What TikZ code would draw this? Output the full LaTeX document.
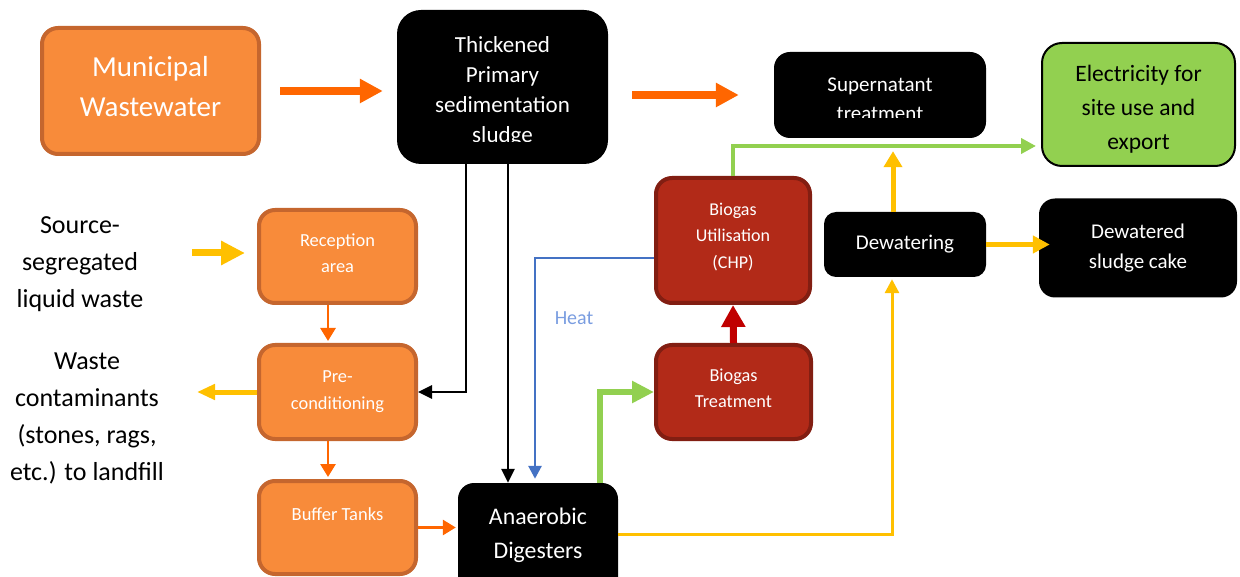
\documentclass[tikz,border=0pt]{standalone}
\usepackage{fontspec}
\setmainfont{Carlito}
\usetikzlibrary{arrows.meta}
\definecolor{orangefill}{RGB}{248,139,58}
\definecolor{orangeedge}{RGB}{197,102,46}
\definecolor{orangeline}{RGB}{255,102,0}
\definecolor{yellowline}{RGB}{255,192,0}
\definecolor{greenfill}{RGB}{146,208,80}
\definecolor{redfill}{RGB}{178,42,24}
\definecolor{rededge}{RGB}{130,30,18}
\definecolor{redline}{RGB}{192,0,0}
\definecolor{blueline}{RGB}{68,114,196}
\definecolor{heattext}{RGB}{122,157,224}
\newcommand{\setfs}[2]{\fontsize{#1}{#2}\selectfont}
\begin{document}
\begin{tikzpicture}[x=1pt,y=-1pt,
  orangebox/.style={draw=orangeedge,fill=orangefill,line width=4pt,rounded corners=16pt,
    text=white,align=center,inner sep=0pt},
  blackbox/.style={fill=black,rounded corners=16pt,text=white,align=center,inner sep=0pt},
  redbox/.style={draw=rededge,fill=redfill,line width=4pt,rounded corners=16pt,
    text=white,align=center,inner sep=0pt},
  greenbox/.style={draw=black,fill=greenfill,line width=2pt,rounded corners=20pt,
    text=black,align=center,inner sep=0pt},
  plain/.style={align=center,inner sep=0pt},
  whitetext/.style={plain,text=white},
  bigorange/.style={draw=orangeline,line width=8pt,-{Triangle[length=23pt,width=23pt]}},
  thinorange/.style={draw=orangeline,line width=2.8pt,-{Triangle[length=13pt,width=15pt]}},
  blackline/.style={draw=black,line width=2.8pt,-{Triangle[length=14pt,width=13pt]}},
  heatline/.style={draw=blueline,line width=2.8pt,-{Triangle[length=13pt,width=13pt]}},
  redarrow/.style={draw=redline,line width=7pt,-{Triangle[length=22pt,width=23pt]}},
]
\useasboundingbox (0,0) rectangle (1240,577);

% boxes
\node[orangebox,minimum width=217pt,minimum height=126pt] (mun) at (150.5,91) {};
\node[blackbox,rounded corners=24pt,minimum width=211pt,minimum height=154pt] (thick) at (502.5,87) {};
\node[blackbox,minimum width=212pt,minimum height=86pt] (super) at (880,95) {};
\node[greenbox,minimum width=193pt,minimum height=123pt] (elec) at (1138.5,104.5) {};
\node[orangebox,minimum width=157pt,minimum height=93pt] (rec) at (337.5,256.5) {};
\node[orangebox,minimum width=157pt,minimum height=94pt,font=\setfs{18.4}{27}] (pre) at (337.5,392)
  {Pre-\\conditioning};
\node[orangebox,minimum width=157pt,minimum height=93pt] (buf) at (337.5,527.5) {};
\node[blackbox,minimum width=160pt,minimum height=117pt] (ana) at (538,541.5) {};
\node[redbox,minimum width=154pt,minimum height=125pt] (util) at (733,240.5) {};
\node[redbox,minimum width=155pt,minimum height=94pt] (treat) at (733.5,392) {};
\node[blackbox,rounded corners=12pt,minimum width=162pt,minimum height=65pt,font=\setfs{21}{30}] (dew) at (905,244.5)
  {Dewatering};
\node[blackbox,minimum width=198pt,minimum height=99pt,font=\setfs{21}{30}] (cake) at (1138,248)
  {Dewatered\\sludge cake};

% box texts
\node[whitetext,font=\setfs{29}{40}] (muntxt) at (150.5,87) {Municipal\\Wastewater};
\begin{scope}
  \clip (397,10) rectangle (608,142);
  \node[whitetext,font=\setfs{23}{30}] (thicktxt) at (502.5,91)
    {Thickened\\Primary\\sedimentation\\sludge};
\end{scope}
\begin{scope}
  \clip (774,52) rectangle (986,118);
  \node[whitetext,font=\setfs{21}{29}] (supertxt) at (880,99) {Supernatant\\treatment};
\end{scope}
\node[plain,font=\setfs{23.5}{34}] (electxt) at (1138.5,109) {Electricity for\\site use and\\export};
\node[whitetext,font=\setfs{18.4}{26}] (rectxt) at (337.5,253.5) {Reception\\area};
\node[whitetext,font=\setfs{18.5}{26}] (buftxt) at (337.5,514) {Buffer Tanks};
\node[whitetext,font=\setfs{23.8}{34}] (anatxt) at (538,535) {Anaerobic\\Digesters};
\node[whitetext,font=\setfs{18}{26.5}] (utiltxt) at (733,237) {Biogas\\Utilisation\\(CHP)};
\node[whitetext,font=\setfs{18.3}{26}] (treattxt) at (733.5,388) {Biogas\\Treatment};

% free labels
\node[plain,font=\setfs{26}{37}] (src) at (80,264) {Source-\\segregated\\liquid waste};
\node[plain,font=\setfs{26}{37}] (waste) at (87,418) {Waste\\contaminants\\(stones, rags,\\etc.) to landfill};
\node[plain,text=heattext,font=\setfs{20}{24}] (heat) at (574,318) {Heat};
\coordinate (srcout) at (192,253);
\coordinate (wasteout) at (197,392);

% connectors
\draw[bigorange,shorten <=19pt,shorten >=14pt] (mun.east) -- (mun.east -| thick.west);
\draw[bigorange,shorten <=24pt,shorten >=35pt] (super.west -| thick.east) -- (super.west);
\draw[draw=yellowline,line width=7pt,-{Triangle[length=24pt,width=23pt]}]
  (srcout) -- ([yshift=3.5pt,xshift=-12pt]rec.west);
\draw[thinorange] ([xshift=-9.5pt]rec.south) -- ([xshift=-9.5pt,yshift=2pt]pre.north);
\draw[thinorange] ([xshift=-9.5pt]pre.south) -- ([xshift=-9.5pt,yshift=2pt]buf.north);
\draw[thinorange,shorten >=2pt] (buf.east) -- (buf.east -| ana.west);
\draw[draw=yellowline,line width=5pt,-{Triangle[length=18pt,width=15pt]}] (pre.west) -- (wasteout);
\draw[blackline] ([xshift=-36.5pt]thick.south) |- (pre.east);
\draw[blackline] ([xshift=5.5pt]thick.south) -- ([xshift=5.5pt]thick.south |- ana.north);
\draw[heatline,shorten >=4pt] ([yshift=-17.5pt]util.west) -| ([xshift=-3pt]ana.north);
\draw[draw=greenfill,line width=6.5pt,-{Triangle[length=22pt,width=21pt]}]
  ([xshift=62pt]ana.north) |- (treat.west);
\draw[redarrow] (treat.north) -- (util.south);
\draw[draw=greenfill,line width=4.5pt,-{Triangle[length=15pt,width=15pt]},shorten >=5pt]
  (util.north) |- ([yshift=-41.5pt]elec.west);
\draw[draw=yellowline,line width=5pt,-{Triangle[length=16pt,width=18pt]},shorten >=13pt]
  ([xshift=-12pt]dew.north) -- ([xshift=-12pt]dew.north |- super.south);
\draw[draw=yellowline,line width=5pt,-{Triangle[length=17pt,width=17pt]}]
  (dew.east) -- ([xshift=11pt]cake.west |- dew.east);
\draw[draw=yellowline,line width=3pt,-{Triangle[length=14pt,width=14pt]}]
  ([yshift=7.5pt]ana.east) -| ([xshift=-13pt,yshift=-2pt]dew.south);
\end{tikzpicture}
\end{document}
